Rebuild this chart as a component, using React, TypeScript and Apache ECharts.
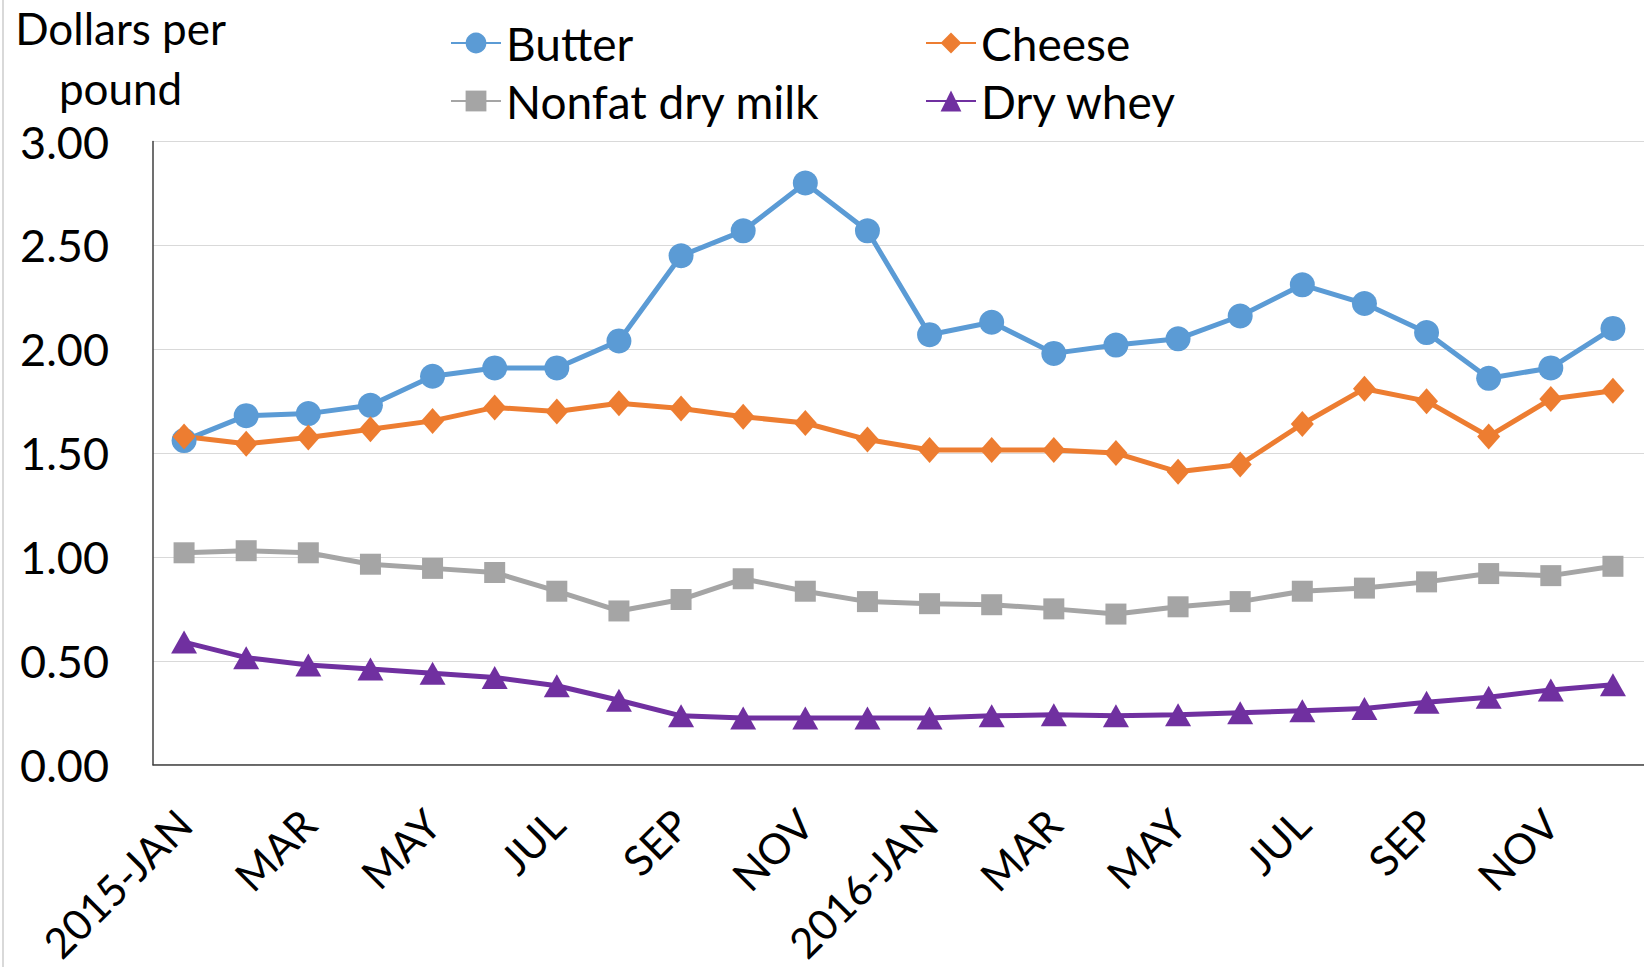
import React, { useEffect, useRef } from "react";
import * as echarts from "echarts";

const months = [
  "2015-JAN", "FEB", "MAR", "APR", "MAY", "JUN", "JUL", "AUG", "SEP", "OCT", "NOV", "DEC",
  "2016-JAN", "FEB", "MAR", "APR", "MAY", "JUN", "JUL", "AUG", "SEP", "OCT", "NOV", "DEC",
];

const butter = [
  1.56, 1.68, 1.69, 1.73, 1.87, 1.91, 1.91, 2.04, 2.45, 2.57, 2.80, 2.57,
  2.07, 2.13, 1.98, 2.02, 2.05, 2.16, 2.31, 2.22, 2.08, 1.86, 1.91, 2.10,
];
const cheese = [
  1.58, 1.545, 1.575, 1.615, 1.655, 1.72, 1.70, 1.74, 1.715, 1.675, 1.645, 1.565,
  1.515, 1.515, 1.515, 1.50, 1.41, 1.445, 1.64, 1.81, 1.75, 1.58, 1.76, 1.80,
];
const nonfatDryMilk = [
  1.02, 1.03, 1.02, 0.965, 0.945, 0.925, 0.835, 0.74, 0.795, 0.895, 0.835, 0.785,
  0.775, 0.77, 0.75, 0.725, 0.76, 0.785, 0.835, 0.85, 0.88, 0.92, 0.91, 0.955,
];
const dryWhey = [
  0.59, 0.515, 0.48, 0.46, 0.44, 0.42, 0.38, 0.31, 0.235, 0.225, 0.225, 0.225,
  0.225, 0.235, 0.24, 0.235, 0.24, 0.25, 0.26, 0.27, 0.30, 0.325, 0.36, 0.385,
];

const yTicks = { min: 0, max: 3, interval: 0.5 };

const FONT = "Lato, 'Noto Sans', sans-serif";

export default function App() {
  const ref = useRef<HTMLDivElement>(null);

  useEffect(() => {
    document.body.style.margin = "0";
    document.body.style.overflow = "hidden";
    if (!ref.current) return;
    const chart = echarts.init(ref.current, undefined, { renderer: "svg" });

    const mk = (name: string, data: number[], color: string, symbol: string, size: any) => ({
      name,
      type: "line",
      data,
      color,
      symbol,
      symbolSize: size,
      lineStyle: { width: 5, color },
      itemStyle: { color },
      z: 3,
    });

    const legendBase = {
      orient: "vertical",
      top: 15,
      itemWidth: 50,
      itemHeight: 26,
      itemGap: 12,
      textStyle: { fontSize: 46, color: "#000", fontFamily: FONT },
    };

    chart.setOption({
      animation: false,
      backgroundColor: "#ffffff",
      textStyle: { fontFamily: FONT },
      grid: { left: 153, top: 141.5, right: 0, bottom: 200.5, containLabel: false },
      legend: [
        { ...legendBase, data: ["Butter", "Nonfat dry milk"], left: 445 },
        { ...legendBase, data: ["Cheese", "Dry whey"], left: 920 },
      ],
      xAxis: {
        type: "category",
        data: months,
        boundaryGap: true,
        axisLine: { show: true, lineStyle: { color: "#404040", width: 1.5 } },
        axisTick: { show: false },
        axisLabel: {
          interval: 1,
          rotate: 45,
          margin: 52,
          fontSize: 42,
          color: "#000",
          fontFamily: FONT,
        },
        splitLine: { show: false },
      },
      yAxis: {
        type: "value",
        min: yTicks.min,
        max: yTicks.max,
        interval: yTicks.interval,
        axisLine: { show: true, lineStyle: { color: "#404040", width: 1.5 } },
        axisTick: { show: false },
        axisLabel: {
          fontSize: 45,
          color: "#000",
          margin: 44,
          fontFamily: FONT,
          formatter: (v: number) => v.toFixed(2),
        },
        splitLine: { show: true, lineStyle: { color: "#d9d9d9", width: 1.2 } },
      },
      graphic: [
        {
          type: "text",
          x: 120.6,
          y: 58,
          style: {
            text: "Dollars per\npound",
            font: `44px ${FONT}`,
            fill: "#000",
            textAlign: "center",
            align: "center",
            textVerticalAlign: "middle",
            verticalAlign: "middle",
            lineHeight: 60,
          },
        },
        {
          type: "line",
          shape: { x1: 3, y1: 0, x2: 3, y2: 967 },
          style: { stroke: "#d9d9d9", lineWidth: 2 },
        },
      ],
      series: [
        mk("Butter", butter, "#5B9BD5", "circle", 25),
        mk("Cheese", cheese, "#ED7D31", "diamond", [23, 26]),
        mk("Nonfat dry milk", nonfatDryMilk, "#A5A5A5", "rect", 21),
        mk("Dry whey", dryWhey, "#7030A0", "triangle", [26, 23]),
      ],
    });

    return () => chart.dispose();
  }, []);

  return (
    <div
      ref={ref}
      style={{
        position: "absolute",
        left: 0,
        top: 0,
        width: 1644,
        height: 967,
        overflow: "hidden",
      }}
    />
  );
}
